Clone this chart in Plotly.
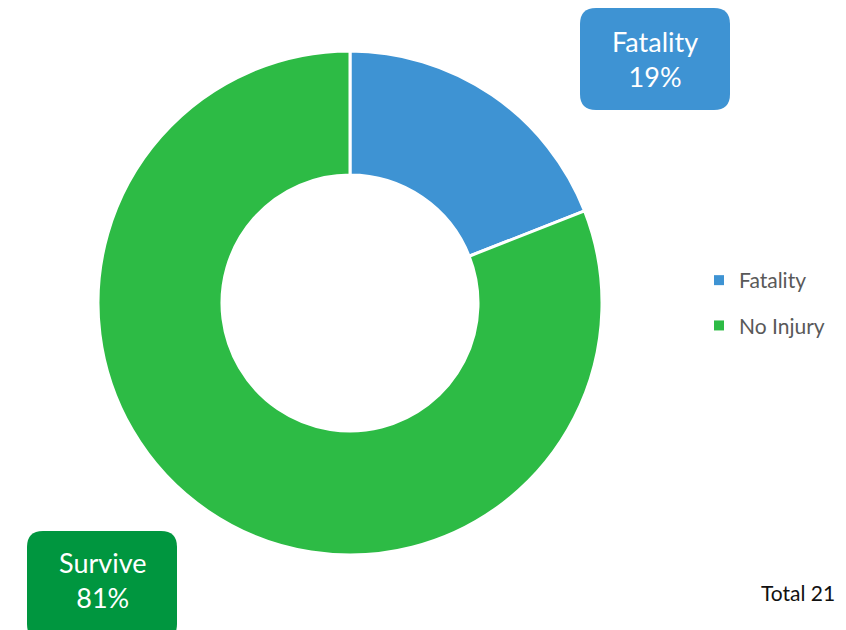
import plotly.graph_objects as go

# Outcome counts
categories = ["Fatality", "No Injury"]
counts = [4, 17]
callout_names = ["Fatality", "Survive"]
slice_colors = ["#3E93D3", "#2DBB45"]
callout_colors = ["#3E93D3", "#00963F"]

W, H = 846, 630
FONT = "Lato, Open Sans, sans-serif"
total = sum(counts)
pcts = [round(v / total * 100) for v in counts]

fig = go.Figure()
fig.add_trace(go.Pie(
    labels=categories,
    values=counts,
    hole=0.508,
    sort=False,
    direction="clockwise",
    rotation=0,
    marker=dict(colors=slice_colors, line=dict(color="white", width=3)),
    textinfo="none",
    hoverinfo="label+value+percent",
    showlegend=False,
    domain=dict(x=[98 / W, 602 / W], y=[75 / H, 579 / H]),
))

# legend entries as square-marker keys, one group per category for spacing
for cat, col in zip(categories, slice_colors):
    fig.add_trace(go.Scatter(
        x=[None], y=[None], mode="markers", name=cat, legendgroup=cat,
        marker=dict(symbol="square", size=10, color=col),
        hoverinfo="skip",
    ))


def rounded_box(x0, y0, x1, y1, r):
    # pixel rectangle (top-left origin) -> paper-space path with rounded corners
    def px(x):
        return x / W

    def py(y):
        return 1 - y / H

    rx, ry = r / W, r / H
    X0, X1 = px(x0), px(x1)
    Yt, Yb = py(y0), py(y1)
    return (
        f"M{X0 + rx},{Yt} L{X1 - rx},{Yt} Q{X1},{Yt} {X1},{Yt - ry} "
        f"L{X1},{Yb + ry} Q{X1},{Yb} {X1 - rx},{Yb} "
        f"L{X0 + rx},{Yb} Q{X0},{Yb} {X0},{Yb + ry} "
        f"L{X0},{Yt - ry} Q{X0},{Yt} {X0 + rx},{Yt} Z"
    )


boxes = [(580, 8, 730, 110), (27, 531, 177, 640)]
text_centers = [59, 580]
for (x0, y0, x1, y1), cy, col, name, p in zip(boxes, text_centers, callout_colors,
                                              callout_names, pcts):
    fig.add_shape(type="path", xref="paper", yref="paper",
                  path=rounded_box(x0, y0, x1, y1, 16),
                  fillcolor=col, line=dict(width=0), layer="above")
    fig.add_annotation(
        x=(x0 + x1) / 2 / W, y=1 - cy / H, xref="paper", yref="paper",
        text=f"{name}<br>{p}%", showarrow=False, align="center",
        font=dict(family=FONT, size=27, color="white"),
        xanchor="center", yanchor="middle",
    )

fig.add_annotation(
    x=837 / W, y=1 - 592 / H, xref="paper", yref="paper",
    text=f"Total {total}", showarrow=False, xanchor="right", yanchor="middle",
    font=dict(family=FONT, size=21, color="#111111"),
)

fig.update_layout(
    width=W, height=H,
    margin=dict(l=0, r=0, t=0, b=0),
    paper_bgcolor="white",
    plot_bgcolor="white",
    showlegend=True,
    xaxis=dict(visible=False),
    yaxis=dict(visible=False),
    legend=dict(
        x=699 / W, y=1 - 260 / H, xanchor="left", yanchor="top",
        font=dict(family=FONT, size=21, color="#595959"),
        itemwidth=30, tracegroupgap=15, traceorder="grouped",
        bgcolor="rgba(0,0,0,0)",
    ),
)

fig.write_html("out.html")
